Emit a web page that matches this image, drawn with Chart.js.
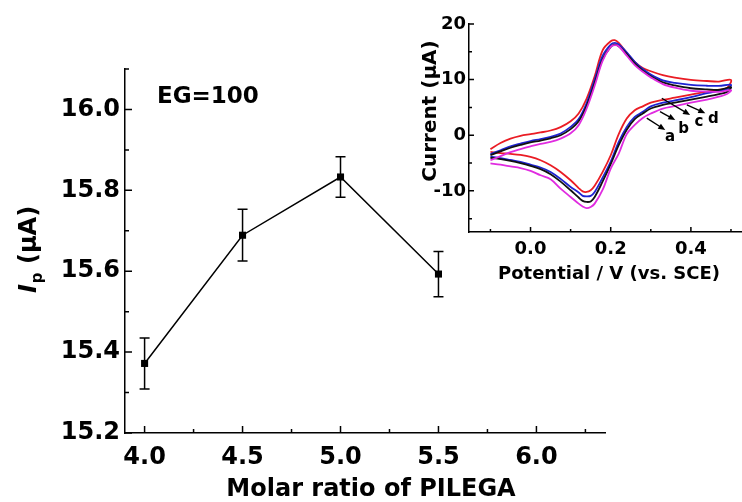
<!DOCTYPE html>
<html>
<head>
<meta charset="utf-8">
<script src="https://cdn.jsdelivr.net/npm/chart.js@4.4.0/dist/chart.umd.min.js"></script>
<style>
  html, body { margin: 0; padding: 0; background: #fff; }
  #wrap { position: relative; width: 742px; height: 502px; }
  #main { position: absolute; left: 0; top: 0; }
  #inset { position: absolute; left: 400px; top: 0; }
</style>
</head>
<body>
<div id="wrap">
  <canvas id="main" width="742" height="502"></canvas>
  <canvas id="inset" width="342" height="300"></canvas>
</div>
<script>
// Main plot: peak current vs molar ratio
const ratio = [4.0, 4.5, 5.0, 5.5];
const ip = [15.372, 15.689, 15.833, 15.593];
const ipErr = [0.063, 0.064, 0.05, 0.056];
const ratioTicks = [4.0, 4.5, 5.0, 5.5, 6.0];
const ratioMinor = [4.25, 4.75, 5.25, 5.75, 6.25];
const ipTicks = [15.2, 15.4, 15.6, 15.8, 16.0];
const ipMinor = [15.3, 15.5, 15.7, 15.9, 16.1];

// Inset: cyclic voltammograms (forward scan, then reverse scan)
const cvUpX = [-0.1, -0.075, -0.05, -0.025, 0, 0.025, 0.05, 0.075, 0.1, 0.12, 0.14, 0.16, 0.18, 0.2, 0.21, 0.22, 0.24, 0.26, 0.28, 0.3, 0.33, 0.36, 0.4, 0.44, 0.47, 0.5];
const cvLowX = [0.49, 0.47, 0.44, 0.4, 0.36, 0.33, 0.3, 0.28, 0.26, 0.24, 0.22, 0.2, 0.18, 0.16, 0.15, 0.14, 0.13, 0.12, 0.1, 0.075, 0.05, 0.025, 0, -0.025, -0.05, -0.075, -0.1];

const redUp = [-2.5, -1.4, -0.6, -0.1, 0.2, 0.5, 0.85, 1.45, 2.5, 3.9, 6.6, 10.6, 15.3, 16.9, 17.1, 16.6, 14.8, 13.2, 12.1, 11.5, 10.8, 10.35, 9.95, 9.75, 9.65, 9.95];
const redLow = [8.5, 8.2, 7.85, 7.3, 6.75, 6.35, 5.85, 5.2, 4.5, 3.0, 0.2, -3.6, -6.6, -9.1, -9.9, -10.2, -10.1, -9.5, -8.1, -6.6, -5.4, -4.5, -3.9, -3.55, -3.35, -3.2, -3.0];
const blueUp = [-3.4, -2.7, -2.0, -1.5, -1.05, -0.7, -0.3, 0.3, 1.5, 2.9, 5.8, 10.0, 14.3, 16.3, 16.6, 16.3, 14.9, 13.2, 11.9, 10.9, 9.85, 9.4, 9.05, 8.9, 8.87, 9.05];
const blueLow = [8.3, 8.0, 7.55, 6.85, 6.25, 5.85, 5.2, 4.2, 3.3, 1.5, -1.2, -4.75, -7.6, -10.2, -10.9, -11.0, -10.9, -10.3, -9.3, -7.85, -6.6, -5.8, -5.3, -4.8, -4.45, -4.1, -3.85];
const blackUp = [-3.6, -2.9, -2.25, -1.75, -1.3, -0.95, -0.55, 0.0, 1.1, 2.5, 5.3, 9.4, 13.7, 15.9, 16.3, 16.0, 14.6, 12.9, 11.6, 10.6, 9.5, 8.95, 8.45, 8.25, 8.15, 8.65];
const blackLow = [7.8, 7.4, 6.95, 6.4, 5.85, 5.45, 4.8, 3.9, 2.9, 1.0, -1.8, -5.2, -8.3, -11.1, -11.9, -12.0, -11.8, -11.2, -9.9, -8.35, -7.0, -6.1, -5.5, -5.0, -4.6, -4.3, -4.05];
const magUp = [-4.5, -3.75, -3.05, -2.5, -2.0, -1.55, -1.2, -0.6, 0.35, 1.8, 4.8, 8.9, 13.4, 15.9, 16.2, 16.0, 14.3, 12.6, 11.4, 10.4, 9.2, 8.55, 8.0, 7.85, 7.8, 8.1];
const magLow = [7.4, 6.95, 6.4, 5.85, 5.25, 4.8, 3.9, 3.1, 1.85, 0.2, -3.3, -6.0, -9.8, -12.3, -12.9, -13.1, -12.8, -12.3, -11.1, -9.6, -7.9, -7.2, -6.4, -5.9, -5.6, -5.3, -5.05];

const potTicks = [0.0, 0.2, 0.4];
const potMinor = [-0.1, 0.1, 0.3, 0.5];
const curTicks = [-10, 0, 10, 20];
const curMinor = [-15, -5, 5, 15];

// arrow annotations a-d (data units of the inset)
const arrowNames = ['a', 'b', 'c', 'd'];
const arrowFrom = [[0.29, 3.06], [0.323, 4.24], [0.3275, 6.65], [0.39, 5.45]];
const arrowTo = [[0.336, 0.95], [0.361, 2.75], [0.398, 3.65], [0.436, 3.96]];
const arrowText = [[0.348, -0.4], [0.382, 1.1], [0.42, 2.3], [0.456, 2.9]];

const FONT = 'DejaVu Sans';
Chart.defaults.font.family = FONT;
Chart.defaults.color = '#000';

function drawInwardTicks(ctx, sx, sy, xMaj, xMin, yMaj, yMin, majLen, minLen) {
  ctx.save();
  ctx.strokeStyle = '#000';
  ctx.lineWidth = 1.5;
  ctx.beginPath();
  xMaj.forEach(v => { const p = sx.getPixelForValue(v); ctx.moveTo(p, sx.top); ctx.lineTo(p, sx.top - majLen); });
  xMin.forEach(v => { const p = sx.getPixelForValue(v); ctx.moveTo(p, sx.top); ctx.lineTo(p, sx.top - minLen); });
  yMaj.forEach(v => { const p = sy.getPixelForValue(v); ctx.moveTo(sy.right, p); ctx.lineTo(sy.right + majLen, p); });
  yMin.forEach(v => { const p = sy.getPixelForValue(v); ctx.moveTo(sy.right, p); ctx.lineTo(sy.right + minLen, p); });
  ctx.stroke();
  ctx.restore();
}

const mainDecor = {
  id: 'mainDecor',
  afterDatasetsDraw(chart) {
    const { ctx, scales: { x, y } } = chart;
    // error bars
    ctx.save();
    ctx.strokeStyle = '#000';
    ctx.lineWidth = 1.5;
    ratio.forEach((r, i) => {
      const px = x.getPixelForValue(r);
      const top = y.getPixelForValue(ip[i] + ipErr[i]);
      const bot = y.getPixelForValue(ip[i] - ipErr[i]);
      ctx.beginPath();
      ctx.moveTo(px, top); ctx.lineTo(px, bot);
      ctx.moveTo(px - 5, top); ctx.lineTo(px + 5, top);
      ctx.moveTo(px - 5, bot); ctx.lineTo(px + 5, bot);
      ctx.stroke();
    });
    ctx.restore();
  },
  afterDraw(chart) {
    const { ctx, scales: { x, y } } = chart;
    drawInwardTicks(ctx, x, y, ratioTicks, ratioMinor, ipTicks, ipMinor, 7, 4);

    ctx.save();
    ctx.fillStyle = '#000';
    ctx.textBaseline = 'middle';
    ctx.font = `bold 23px ${FONT}`;
    ctx.textAlign = 'left';
    ctx.fillText('EG=100', 157, 97);

    ctx.textAlign = 'center';
    ctx.font = `bold 24px ${FONT}`;
    ctx.fillText('Molar ratio of PILEGA', 371, 490);

    // y title: I (italic) + subscript p + (μA)
    ctx.translate(27, 250);
    ctx.rotate(-Math.PI / 2);
    ctx.textAlign = 'left';
    ctx.textBaseline = 'alphabetic';
    const fI = `italic bold 24px ${FONT}`, fP = `bold 15px ${FONT}`, fR = `bold 24px ${FONT}`;
    ctx.font = fI; const wI = ctx.measureText('I').width;
    ctx.font = fP; const wP = ctx.measureText('p').width;
    ctx.font = fR; const wR = ctx.measureText(' (μA)').width;
    let cx = -(wI + wP + wR) / 2;
    const base = 9;
    ctx.font = fI; ctx.fillText('I', cx, base); cx += wI + 1;
    ctx.font = fP; ctx.fillText('p', cx, base + 6); cx += wP;
    ctx.font = fR; ctx.fillText(' (μA)', cx, base);
    ctx.restore();
  }
};

new Chart(document.getElementById('main'), {
  type: 'scatter',
  data: {
    datasets: [{
      data: ratio.map((r, i) => ({ x: r, y: ip[i] })),
      showLine: true,
      borderColor: '#000',
      borderWidth: 1.5,
      pointStyle: 'rect',
      pointRadius: 5,
      pointBackgroundColor: '#000',
      pointBorderColor: '#000',
      pointBorderWidth: 0,
      tension: 0,
    }]
  },
  options: {
    responsive: false,
    animation: false,
    layout: { padding: { top: 69, right: 137, left: 0, bottom: 0 } },
    plugins: { legend: { display: false }, tooltip: { enabled: false } },
    scales: {
      x: {
        type: 'linear',
        min: 3.9,
        max: 6.35,
        afterBuildTicks: s => { s.ticks = ratioTicks.map(v => ({ value: v })); },
        afterFit: s => { s.height = 69; },
        grid: { display: false, drawTicks: false },
        border: { display: true, color: '#000', width: 1.5 },
        ticks: { font: { size: 24, weight: 'bold' }, padding: 10, maxRotation: 0, autoSkip: false, callback: v => Number(v).toFixed(1) }
      },
      y: {
        type: 'linear',
        min: 15.2,
        max: 16.1,
        afterBuildTicks: s => { s.ticks = ipTicks.map(v => ({ value: v })); },
        afterFit: s => { s.width = 125; },
        grid: { display: false, drawTicks: false },
        border: { display: true, color: '#000', width: 1.5 },
        ticks: { font: { size: 24, weight: 'bold' }, padding: 5, autoSkip: false, callback: v => Number(v).toFixed(1) }
      }
    }
  },
  plugins: [mainDecor]
});

function cvLoop(up, low) {
  return cvUpX.map((x, i) => ({ x, y: up[i] })).concat(cvLowX.map((x, i) => ({ x, y: low[i] })));
}

function cvSet(up, low, color) {
  return { data: cvLoop(up, low), showLine: true, borderColor: color, borderWidth: 1.8, pointRadius: 0, tension: 0.35 };
}

const insetDecor = {
  id: 'insetDecor',
  afterDraw(chart) {
    const { ctx, scales: { x, y } } = chart;
    drawInwardTicks(ctx, x, y, potTicks, potMinor, curTicks, curMinor, 5, 3);

    ctx.save();
    ctx.strokeStyle = '#000';
    ctx.fillStyle = '#000';
    ctx.lineWidth = 1.4;
    arrowNames.forEach((name, i) => {
      const x0 = x.getPixelForValue(arrowFrom[i][0]), y0 = y.getPixelForValue(arrowFrom[i][1]);
      const x1 = x.getPixelForValue(arrowTo[i][0]), y1 = y.getPixelForValue(arrowTo[i][1]);
      const ang = Math.atan2(y1 - y0, x1 - x0);
      ctx.beginPath();
      ctx.moveTo(x0, y0);
      ctx.lineTo(x1 - 5 * Math.cos(ang), y1 - 5 * Math.sin(ang));
      ctx.stroke();
      ctx.beginPath();
      ctx.moveTo(x1, y1);
      ctx.lineTo(x1 - 7 * Math.cos(ang) + 3 * Math.sin(ang), y1 - 7 * Math.sin(ang) - 3 * Math.cos(ang));
      ctx.lineTo(x1 - 7 * Math.cos(ang) - 3 * Math.sin(ang), y1 - 7 * Math.sin(ang) + 3 * Math.cos(ang));
      ctx.closePath();
      ctx.fill();
      ctx.font = `bold 15px ${FONT}`;
      ctx.textAlign = 'center';
      ctx.textBaseline = 'middle';
      ctx.fillText(name, x.getPixelForValue(arrowText[i][0]), y.getPixelForValue(arrowText[i][1]));
    });

    ctx.font = `bold 18px ${FONT}`;
    ctx.textAlign = 'center';
    ctx.textBaseline = 'middle';
    ctx.fillText('Potential / V (vs. SCE)', 209, 274);

    ctx.translate(31, 111);
    ctx.rotate(-Math.PI / 2);
    ctx.font = `bold 20px ${FONT}`;
    ctx.fillText('Current (μA)', 0, 0);
    ctx.restore();
  }
};

new Chart(document.getElementById('inset'), {
  type: 'scatter',
  data: {
    datasets: [
      cvSet(magUp, magLow, '#e02ce0'),
      cvSet(blackUp, blackLow, '#111111'),
      cvSet(blueUp, blueLow, '#1e22d2'),
      cvSet(redUp, redLow, '#ea1c24'),
    ]
  },
  options: {
    responsive: false,
    animation: false,
    layout: { padding: { top: 24, right: 0, left: 0, bottom: 0 } },
    plugins: { legend: { display: false }, tooltip: { enabled: false } },
    scales: {
      x: {
        type: 'linear',
        min: -0.1535,
        max: 0.5275,
        afterBuildTicks: s => { s.ticks = potTicks.map(v => ({ value: v })); },
        afterFit: s => { s.height = 68; },
        grid: { display: false, drawTicks: false },
        border: { display: true, color: '#000', width: 1.5 },
        ticks: { font: { size: 18, weight: 'bold' }, padding: 7, maxRotation: 0, autoSkip: false, callback: v => Number(v).toFixed(1) }
      },
      y: {
        type: 'linear',
        min: -17.4,
        max: 20,
        afterBuildTicks: s => { s.ticks = curTicks.map(v => ({ value: v })); },
        afterFit: s => { s.width = 69; },
        grid: { display: false, drawTicks: false },
        border: { display: true, color: '#000', width: 1.5 },
        ticks: { font: { size: 18, weight: 'bold' }, padding: 3, autoSkip: false, callback: v => String(v) }
      }
    }
  },
  plugins: [insetDecor]
});
</script>
</body>
</html>
